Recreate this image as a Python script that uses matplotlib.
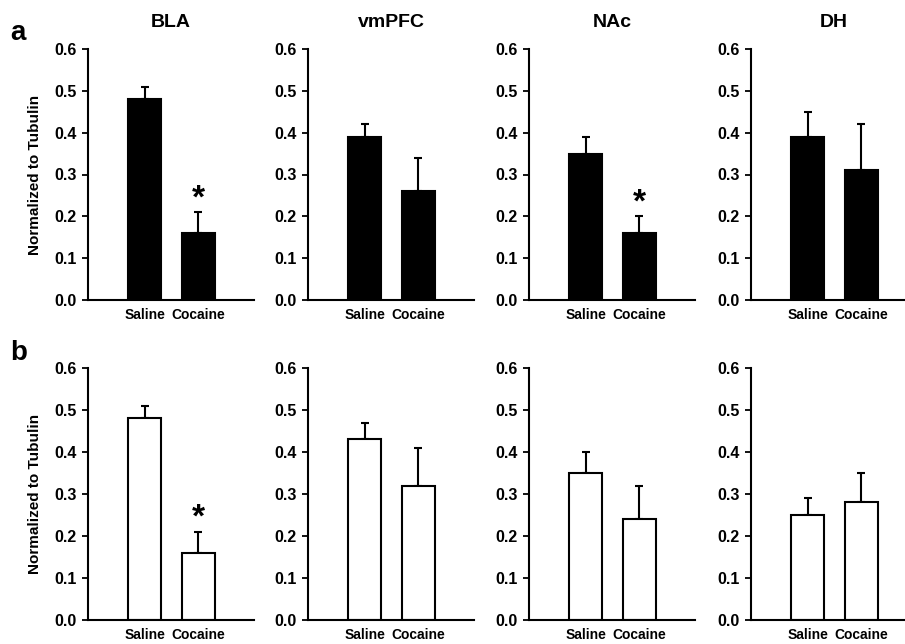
import matplotlib
matplotlib.use('Agg')
import matplotlib.pyplot as plt

plt.rcParams['font.family'] = ['Liberation Sans', 'DejaVu Sans']
plt.rcParams['font.weight'] = 'bold'

regions = ['BLA', 'vmPFC', 'NAc', 'DH']
groups = ['Saline', 'Cocaine']

# row a (black bars)
a_mean = [[0.48, 0.16], [0.39, 0.26], [0.35, 0.16], [0.39, 0.31]]
a_err = [[0.03, 0.05], [0.03, 0.08], [0.04, 0.04], [0.06, 0.11]]
a_star = [[False, True], [False, False], [False, True], [False, False]]

# row b (white bars)
b_mean = [[0.48, 0.16], [0.43, 0.32], [0.35, 0.24], [0.25, 0.28]]
b_err = [[0.03, 0.05], [0.04, 0.09], [0.05, 0.08], [0.04, 0.07]]
b_star = [[False, True], [False, False], [False, False], [False, False]]

yticks = [0.0, 0.1, 0.2, 0.3, 0.4, 0.5, 0.6]

W, H = 905, 644
fig = plt.figure(figsize=(W / 100, H / 100), dpi=100)

lefts = [88, 308, 529, 751]
rows = [(300, 251, a_mean, a_err, a_star, 'black'),
        (620, 252, b_mean, b_err, b_star, 'white')]

for r, (y0, h, means, errs, stars, fc) in enumerate(rows):
    for c in range(4):
        ax = fig.add_axes([lefts[c] / W, (H - y0) / H, 166 / W, h / H])
        x = [0, 1]
        ax.bar(x, means[c], width=0.61, color=fc, edgecolor='black',
               linewidth=1.5, zorder=2)
        ax.errorbar(x, means[c], yerr=[[0, 0], errs[c]], fmt='none',
                    ecolor='black', elinewidth=1.5, capsize=3, capthick=1.5,
                    zorder=1)
        for i in range(2):
            if stars[c][i]:
                ax.text(x[i], means[c][i] + errs[c][i] - 0.005, '*',
                        ha='center', va='bottom', fontsize=24,
                        fontweight='bold')
        ax.set_xlim(-1.05, 2.03)
        ax.set_ylim(0, 0.6)
        ax.set_yticks(yticks)
        ax.set_yticklabels(['%.1f' % t for t in yticks], fontsize=11.5,
                           fontweight='bold')
        ax.set_xticks(x)
        ax.set_xticklabels(groups, fontsize=10, fontweight='bold')
        ax.tick_params(axis='x', length=0, pad=6)
        ax.tick_params(axis='y', length=4, width=1.3, pad=4)
        for s in ['top', 'right']:
            ax.spines[s].set_visible(False)
        for s in ['left', 'bottom']:
            ax.spines[s].set_linewidth(1.5)
        if r == 0:
            ax.set_title(regions[c], fontsize=14, fontweight='bold', pad=16)
        if c == 0:
            ax.set_ylabel('Normalized to Tubulin', fontsize=11,
                          fontweight='bold', labelpad=9)

fig.text(10 / W, 1 - 33 / H, 'a', fontsize=20, fontweight='bold',
         va='center', ha='left')
fig.text(10 / W, 1 - 353 / H, 'b', fontsize=20, fontweight='bold',
         va='center', ha='left')

fig.savefig('out.png', dpi=100)
